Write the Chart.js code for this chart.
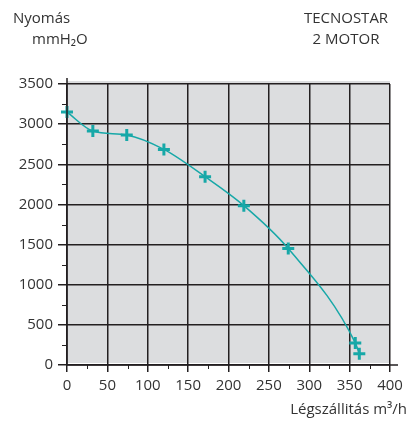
<!DOCTYPE html>
<html>
<head>
<meta charset="utf-8">
<script src="https://cdn.jsdelivr.net/npm/chart.js@4"></script>
<style>
  body { margin: 0; background: #fff; }
</style>
</head>
<body>
<canvas id="fanChart" width="409" height="421"></canvas>
<script>
// air flow (m3/h) and pressure (mmH2O)
const flow = [0, 32, 74, 120, 171, 219, 274, 357, 362];
const pressure = [3150, 2915, 2865, 2685, 2345, 1985, 1450, 275, 140];

const xMin = 0, xMax = 400, xStep = 50;
const yMin = 0, yMax = 3500, yStep = 500;

const titleLeft = ['Nyomás', 'mmH\u2082O'];
const titleRight = ['TECNOSTAR', '2 MOTOR'];
const xTitle = 'Légszállitás m\u00B3/h';

const lineColor = '#17a8a8';
const inkColor = '#231f20';
const textColor = '#333333';
const fontFamily = '"Open Sans", sans-serif';

const points = flow.map((v, i) => ({ x: v, y: pressure[i] }));

// gray plot background + minor ticks + texts
const decorPlugin = {
    id: 'decor',
    beforeDraw(chart) {
        const a = chart.chartArea;
        const ctx = chart.ctx;
        ctx.save();
        ctx.fillStyle = '#dcdddf';
        ctx.fillRect(a.left, a.top - 3, a.right - a.left, a.bottom - a.top + 1);
        ctx.restore();
    },
    afterDraw(chart) {
        const ctx = chart.ctx;
        const a = chart.chartArea;
        const xs = chart.scales.x, ys = chart.scales.y;
        ctx.save();
        ctx.strokeStyle = inkColor;
        ctx.lineWidth = 1;
        for (let v = xMin + xStep / 2; v < xMax; v += xStep) {
            const px = Math.round(xs.getPixelForValue(v)) + 0.5;
            ctx.beginPath();
            ctx.moveTo(px, a.bottom);
            ctx.lineTo(px, a.bottom + 4);
            ctx.stroke();
        }
        for (let v = yMin + yStep / 2; v < yMax; v += yStep) {
            const py = Math.round(ys.getPixelForValue(v)) + 0.5;
            ctx.beginPath();
            ctx.moveTo(a.left - 5, py);
            ctx.lineTo(a.left, py);
            ctx.stroke();
        }
        // axis lines running a bit past the plot
        ctx.lineWidth = 1.5;
        ctx.beginPath();
        ctx.moveTo(a.left, a.top - 6);
        ctx.lineTo(a.left, a.bottom);
        ctx.lineTo(a.right + 8, a.bottom);
        ctx.stroke();

        ctx.fillStyle = textColor;
        ctx.font = '15px ' + fontFamily;
        ctx.textBaseline = 'alphabetic';
        ctx.textAlign = 'left';
        ctx.fillText(titleLeft[0], 13, 23);
        ctx.fillText(titleLeft[1], 32, 44);
        ctx.textAlign = 'center';
        ctx.fillText(titleRight[0], 346, 23);
        ctx.fillText(titleRight[1], 346, 44);
        ctx.textAlign = 'right';
        ctx.fillText(xTitle, 407, 414);
        ctx.restore();
    }
};

const fanChart = new Chart(document.getElementById('fanChart'), {
    type: 'scatter',
    data: {
        datasets: [{
            data: points,
            showLine: true,
            clip: false,
            borderColor: lineColor,
            borderWidth: 1.5,
            cubicInterpolationMode: 'monotone',
            pointStyle: 'cross',
            pointRadius: 6,
            pointBorderWidth: 3,
            pointBorderColor: lineColor,
            pointHoverRadius: 6
        }]
    },
    options: {
        responsive: false,
        animation: false,
        layout: {
            padding: { left: 0, top: 84, right: 19, bottom: 0 }
        },
        plugins: {
            legend: { display: false },
            tooltip: { enabled: false }
        },
        scales: {
            x: {
                type: 'linear',
                min: xMin,
                max: xMax,
                afterFit: (scale) => { scale.height = 56; },
                ticks: {
                    stepSize: xStep,
                    autoSkip: false,
                    maxRotation: 0,
                    color: textColor,
                    padding: 5,
                    font: { family: fontFamily, size: 15 },
                    callback: (v) => String(v)
                },
                grid: {
                    color: inkColor,
                    lineWidth: 1.5,
                    tickLength: 7
                },
                border: { display: false }
            },
            y: {
                type: 'linear',
                min: yMin,
                max: yMax,
                afterFit: (scale) => { scale.width = 67; },
                ticks: {
                    stepSize: yStep,
                    autoSkip: false,
                    color: textColor,
                    padding: 5,
                    font: { family: fontFamily, size: 15 },
                    callback: (v) => String(v)
                },
                grid: {
                    color: inkColor,
                    lineWidth: 1.5,
                    tickLength: 9
                },
                border: { display: false }
            }
        }
    },
    plugins: [decorPlugin]
});
</script>
</body>
</html>
